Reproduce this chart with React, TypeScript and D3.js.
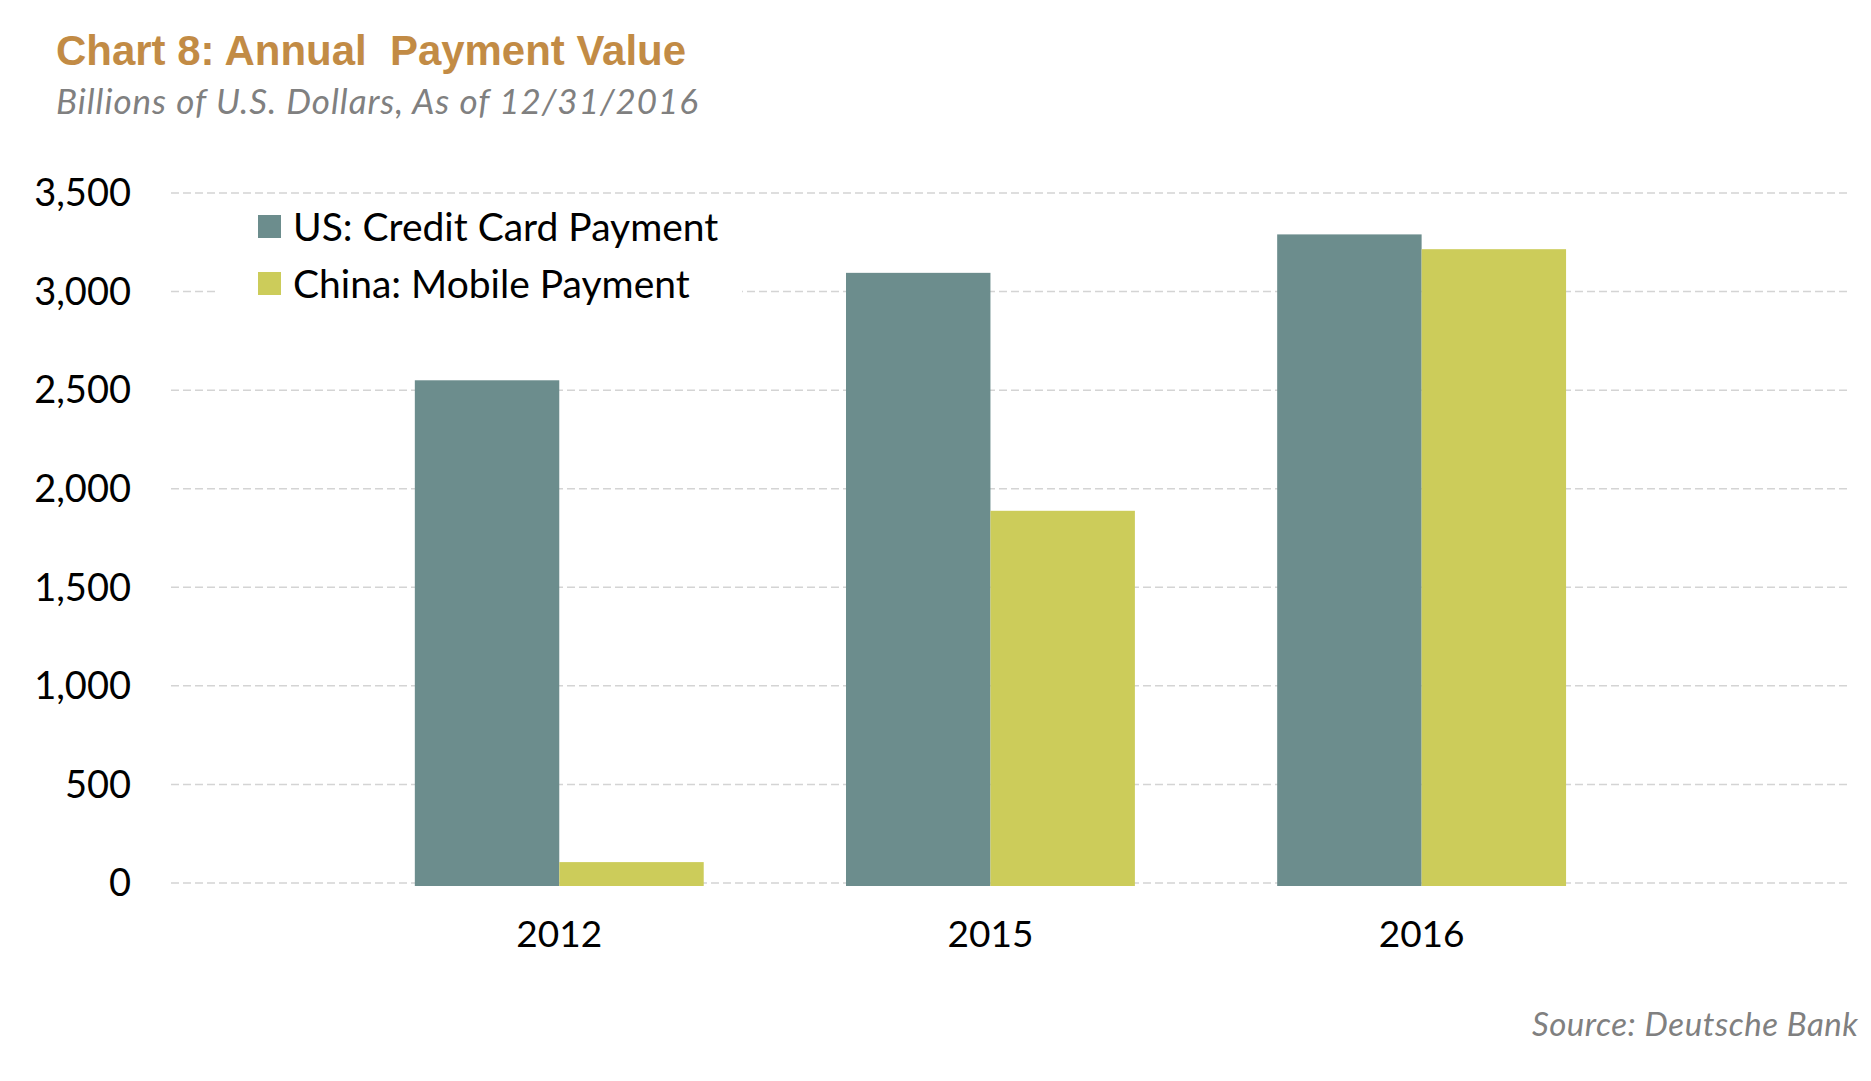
import React from "react";
import * as d3 from "d3";

const WIDTH = 1871;
const HEIGHT = 1081;

// data (billions of USD)
const years = ["2012", "2015", "2016"];
const seriesNames = ["US: Credit Card Payment", "China: Mobile Payment"];
const usCreditCard = [2550, 3095, 3290];
const chinaMobile = [106, 1888, 3215];
const yTicks = [0, 500, 1000, 1500, 2000, 2500, 3000, 3500];

const COLORS = ["#6C8D8D", "#CCCC5A"];
const FONT = "Lato, 'Noto Sans', sans-serif";

export default function App() {
  const plotLeft = 171;
  const plotRight = 1850;
  const plotTop = 193;
  const plotBottom = 883;

  const x = d3
    .scaleBand<string>()
    .domain(years)
    .range([plotLeft, plotRight])
    .paddingInner(0.33)
    .paddingOuter(0.612)
    .align(0.462);

  const xInner = d3
    .scaleBand<string>()
    .domain(seriesNames)
    .range([0, x.bandwidth()]);

  const y = d3.scaleLinear().domain([0, 3500]).range([plotBottom, plotTop]);

  const color = d3.scaleOrdinal<string, string>().domain(seriesNames).range(COLORS);

  const fmt = d3.format(",");

  const rows = years.map((year, i) => ({
    year,
    values: [usCreditCard[i], chinaMobile[i]],
  }));

  return (
    <div style={{ position: "absolute", left: 0, top: 0 }}>
      <svg width={WIDTH} height={HEIGHT} style={{ display: "block", background: "#fff" }}>
        {/* title block */}
        <text
          x={56}
          y={65}
          fontFamily="'Liberation Sans', Arial, sans-serif"
          fontWeight="bold"
          fontSize={43}
          fill="#C28B45"
          textLength={630}
          lengthAdjust="spacingAndGlyphs"
          style={{ whiteSpace: "pre" }}
        >
          {"Chart 8: Annual  Payment Value"}
        </text>
        <text
          x={56}
          y={114}
          fontFamily={FONT}
          fontStyle="italic"
          fontSize={35}
          fill="#808080"
          textLength={642}
          lengthAdjust="spacing"
        >
          Billions of U.S. Dollars, As of 12/31/2016
        </text>

        {/* gridlines + y labels */}
        {yTicks.map((t) => (
          <g key={t}>
            <line
              x1={plotLeft}
              x2={plotRight}
              y1={y(t)}
              y2={y(t)}
              stroke="#D4D4D4"
              strokeWidth={1.5}
              strokeDasharray="8,4"
            />
            <text
              x={131}
              y={y(t)}
              dy="0.35em"
              textAnchor="end"
              fontFamily={FONT}
              fontSize={38}
              fill="#000"
            >
              {fmt(t)}
            </text>
          </g>
        ))}

        {/* bars */}
        {rows.map((r) => (
          <g key={r.year} transform={`translate(${x(r.year)},0)`}>
            {r.values.map((v, j) => (
              <rect
                key={j}
                x={xInner(seriesNames[j])}
                y={y(v)}
                width={xInner.bandwidth()}
                height={y(0) - y(v) + 3}
                fill={color(seriesNames[j])}
              />
            ))}
            <text
              x={x.bandwidth() / 2}
              y={934}
              dy="0.35em"
              textAnchor="middle"
              fontFamily={FONT}
              fontSize={37}
              fill="#000"
            >
              {r.year}
            </text>
          </g>
        ))}

        {/* legend */}
        <g>
          <rect x={219} y={205} width={523} height={100} fill="#fff" />
          {seriesNames.map((name, i) => (
            <g key={name} transform={`translate(258,${215 + i * 57})`}>
              <rect width={23} height={23} fill={color(name)} />
              <text x={35} y={12} dy="0.35em" fontFamily={FONT} fontSize={39} fill="#000">
                {name}
              </text>
            </g>
          ))}
        </g>

        {/* source */}
        <text
          x={1858}
          y={1024}
          dy="0.35em"
          textAnchor="end"
          fontFamily={FONT}
          fontStyle="italic"
          fontSize={33}
          fill="#808080"
          textLength={326}
          lengthAdjust="spacing"
        >
          Source: Deutsche Bank
        </text>
      </svg>
    </div>
  );
}
